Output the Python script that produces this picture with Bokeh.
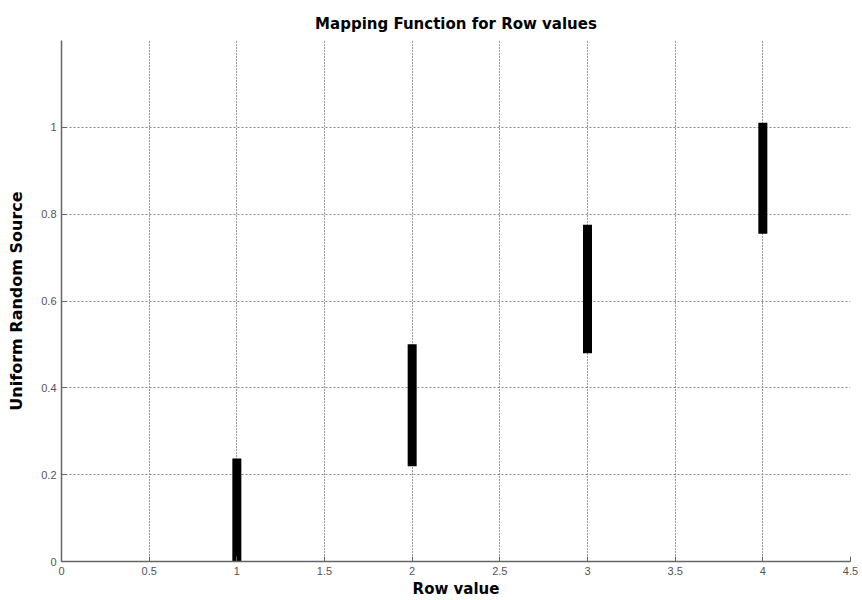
from bokeh.plotting import figure
from bokeh.models import FixedTicker, Range1d
from bokeh.embed import file_html
from bokeh.resources import INLINE

# data: row values and the uniform-source interval each maps from
row_values = [1, 2, 3, 4]
interval_low = [0.0, 0.23, 0.49, 0.765]
interval_high = [0.227, 0.49, 0.765, 1.0]

x_ticks = [0, 0.5, 1, 1.5, 2, 2.5, 3, 3.5, 4, 4.5]
y_ticks = [0, 0.2, 0.4, 0.6, 0.8, 1.0]

p = figure(width=862, height=600, output_backend="svg", toolbar_location=None,
           x_range=Range1d(0, 4.5), y_range=Range1d(0, 1.2),
           min_border_left=61, min_border_right=12, min_border_top=40, min_border_bottom=39)

p.title.text = "Mapping Function for Row values"
p.title.align = "center"
p.title.text_font = "DejaVu Sans"
p.title.text_font_size = "15px"
p.title.text_font_style = "bold"
p.title.text_color = "black"
p.title.offset = 0
p.title.standoff = 15

p.outline_line_color = None

for ax in (p.xaxis[0], p.yaxis[0]):
    ax.axis_line_color = "#666666"
    ax.axis_line_width = 1.5
    ax.major_tick_line_color = "#666666"
    ax.major_tick_in = 5
    ax.major_tick_out = 0
    ax.minor_tick_line_color = None
    ax.major_label_text_font = "Liberation Sans"
    ax.major_label_text_font_size = "11px"
    ax.major_label_text_color = "#555555"
    ax.axis_label_text_font = "DejaVu Sans"
    ax.axis_label_text_font_style = "bold"
    ax.axis_label_text_font_size = "15px"
    ax.axis_label_text_color = "black"

p.yaxis.axis_label_text_font_size = "16px"

p.xaxis.ticker = FixedTicker(ticks=x_ticks)
p.yaxis.ticker = FixedTicker(ticks=y_ticks)
p.xaxis.axis_label = "Row value"
p.yaxis.axis_label = "Uniform Random Source"
p.xaxis.major_label_standoff = 5
p.xaxis.axis_label_standoff = 2
p.yaxis.major_label_standoff = 5
p.yaxis.axis_label_standoff = 12

p.xgrid.ticker = FixedTicker(ticks=x_ticks[1:])
p.ygrid.ticker = FixedTicker(ticks=y_ticks[1:])
p.xgrid.grid_line_color = "#333333"
p.xgrid.grid_line_dash = "1 2"
p.xgrid.grid_line_width = 1
p.ygrid.grid_line_color = "#888888"
p.ygrid.grid_line_dash = "2 2"
p.ygrid.grid_line_width = 1

p.segment(x0=row_values, y0=interval_low, x1=row_values, y1=interval_high,
          line_color="black", line_width=9, line_cap="square")

open("out.html", "w").write(file_html(p, INLINE))
